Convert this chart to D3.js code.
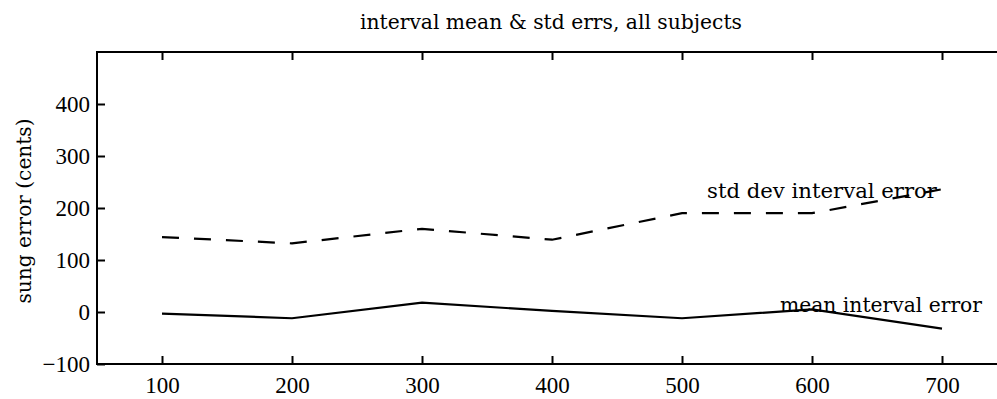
<!DOCTYPE html>
<html><head><meta charset="utf-8">
<script src="https://cdn.jsdelivr.net/npm/d3@7"></script>
<style>body{margin:0;background:#fff}svg{display:block}text{fill:#000}</style>
</head><body>
<svg id="c" width="997" height="399"></svg>
<script>
const xValues = [100, 200, 300, 400, 500, 600, 700];
const meanError = [-3, -12, 18, 2, -12, 5, -32];
const stdError = [144, 132, 160, 139, 190, 190, 236];
const xTicks = [100, 200, 300, 400, 500, 600, 700];
const yTicks = [-100, 0, 100, 200, 300, 400];
const title = "interval mean & std errs, all subjects";
const yLabel = "sung error (cents)";
const meanLabel = "mean interval error";
const stdLabel = "std dev interval error";

const svg = d3.select("#c");
const x = d3.scaleLinear().domain([50, 750]).range([97, 1007]);
const y = d3.scaleLinear().domain([-100, 500]).range([364, 52]);
const numFont = '"Liberation Serif", "Times New Roman", serif';
const wordFont = '"DejaVu Serif", serif';
const numSize = 23, wordSize = 21;

svg.append("rect").attr("x", x(50)).attr("y", y(500)).attr("width", x(750)-x(50)).attr("height", y(-100)-y(500))
  .attr("fill", "none").attr("stroke", "#000").attr("stroke-width", 2);

const xb = svg.append("g").attr("transform", `translate(0,${y(-100)})`)
  .call(d3.axisBottom(x).tickValues(xTicks).tickSizeInner(-8).tickSizeOuter(0).tickPadding(13));
const xt = svg.append("g").attr("transform", `translate(0,${y(500)})`)
  .call(d3.axisTop(x).tickValues(xTicks).tickSizeInner(-8).tickSizeOuter(0).tickFormat(""));
const yl = svg.append("g").attr("transform", `translate(${x(50)},0)`)
  .call(d3.axisLeft(y).tickValues(yTicks).tickSizeInner(-8).tickSizeOuter(0).tickPadding(7).tickFormat(d => d < 0 ? "\u2212" + Math.abs(d) : d));
[xb, xt, yl].forEach(g => {
  g.select(".domain").remove();
  g.selectAll(".tick line").attr("stroke", "#000").attr("stroke-width", 2);
  g.selectAll(".tick text").attr("font-size", numSize).attr("font-family", numFont).attr("fill", "#000");
});

const line = d3.line().x((d, i) => x(xValues[i])).y(d => y(d));
svg.append("path").datum(meanError).attr("d", line).attr("fill", "none").attr("stroke", "#000").attr("stroke-width", 2.2);
svg.append("path").datum(stdError).attr("d", line).attr("fill", "none").attr("stroke", "#000").attr("stroke-width", 2.2).attr("stroke-dasharray", "17,15");

function word(t, w) {
  return t.attr("font-family", wordFont).attr("font-size", wordSize).attr("textLength", w).attr("lengthAdjust", "spacingAndGlyphs");
}
word(svg.append("text").attr("x", 360).attr("y", 29).text(title), 382);
word(svg.append("text").attr("transform", `translate(31,${y(200)+3}) rotate(-90)`).attr("text-anchor", "middle").text(yLabel), 185);
word(svg.append("text").attr("x", 707).attr("y", 198).text(stdLabel), 230);
word(svg.append("text").attr("x", 780).attr("y", 312).text(meanLabel), 202);
</script>
</body></html>
